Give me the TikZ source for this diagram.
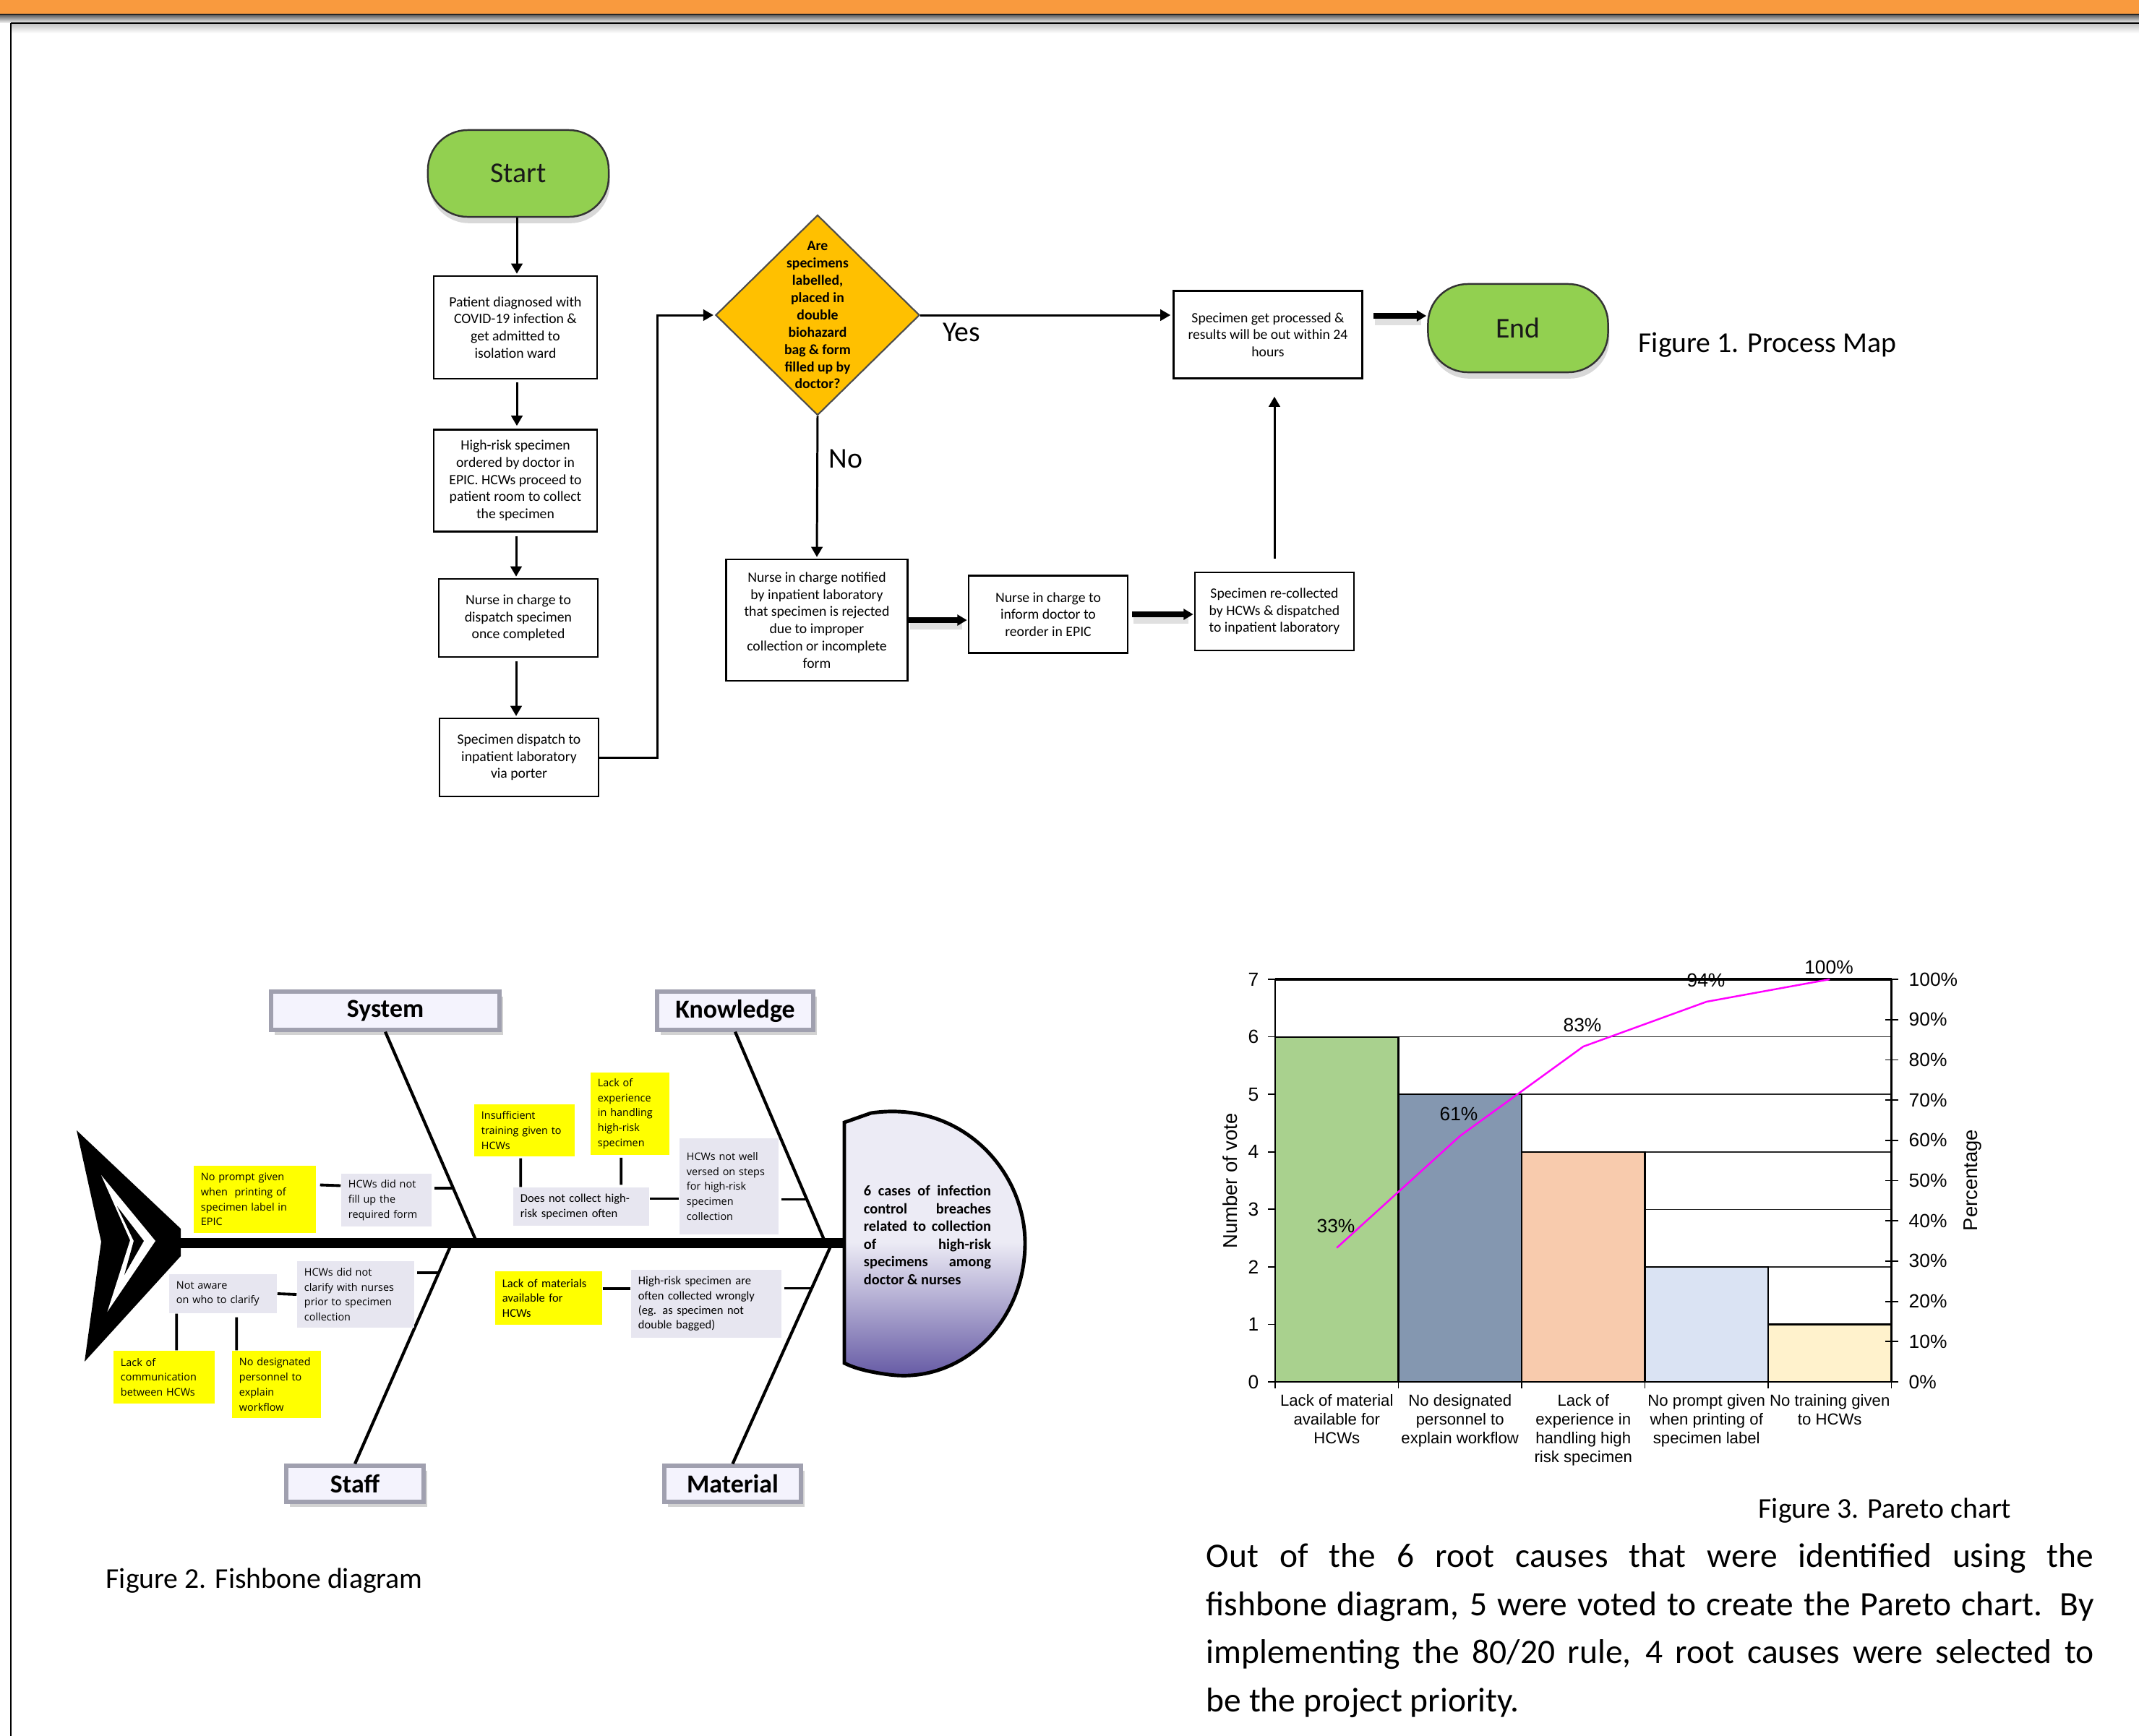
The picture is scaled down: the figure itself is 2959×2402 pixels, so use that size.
\documentclass[tikz,border=0pt]{standalone}
\usepackage{fontspec}
\setmainfont{Carlito}
\newfontfamily\osans{Open Sans}
\newfontfamily\arialf{Liberation Sans}
\usetikzlibrary{shapes.geometric,arrows.meta,calc,shadows}
\newcommand\fsz[2]{\fontsize{#1}{#2}\selectfont}
\definecolor{orangeband}{RGB}{249,154,62}
\definecolor{termgreen}{RGB}{146,208,80}
\definecolor{diamondfill}{RGB}{255,192,0}
\definecolor{causegray}{RGB}{231,230,240}
\definecolor{causeyellow}{RGB}{255,255,0}
\definecolor{catfill}{RGB}{244,243,253}
\definecolor{catedge}{RGB}{160,160,175}
\definecolor{barA}{RGB}{169,209,142}
\definecolor{barB}{RGB}{132,151,176}
\definecolor{barC}{RGB}{248,203,173}
\definecolor{barD}{RGB}{218,227,243}
\definecolor{barE}{RGB}{255,242,204}
\definecolor{headlight}{RGB}{236,235,245}
\definecolor{headdark}{RGB}{94,82,160}
\definecolor{paretoline}{RGB}{255,0,255}
\begin{document}
\begin{tikzpicture}[x=0.01cm,y=-0.01cm,
  flowbox/.style={draw=black, line width=0.7pt, fill=white, align=center, inner sep=0pt, font=\fsz{5.6pt}{6.74pt}},
  term/.style={draw=black!80, line width=0.7pt, fill=termgreen, rounded corners=0.55cm, font=\fsz{11.3pt}{13pt}, text=black!90,
     drop shadow={shadow xshift=0.5pt, shadow yshift=-2.5pt, opacity=0.3}},
  flowarr/.style={line width=0.85pt, -{Triangle[length=4pt,width=4.4pt]}},
  thickarr/.style={line width=2pt, -{Triangle[length=3.8pt,width=4.2pt]}},
  arrshadow/.style={line width=3.5pt, black, opacity=0.12},
  cause/.style={fill=causegray, align=left, inner xsep=0.1cm, inner ysep=0pt, font=\osans\fsz{4.1pt}{5.9pt}},
  causey/.style={cause, fill=causeyellow},
  causec/.style={cause, font=\fsz{4.7pt}{5.8pt}},
  causecy/.style={causec, fill=causeyellow},
  catbox/.style={fill=catfill, draw=catedge, line width=1.5pt, inner sep=0pt, font=\bfseries\fsz{10.2pt}{12pt},
     drop shadow={shadow xshift=1.5pt, shadow yshift=-2pt, opacity=0.35}},
  bone/.style={line width=1.2pt},
  link/.style={line width=1.1pt},
  chartlbl/.style={font=\arialf\fsz{7.5pt}{9pt}, inner sep=0pt},
  catlbl/.style={font=\arialf\fsz{6.3pt}{7.35pt}, align=center, inner sep=0pt, anchor=north},
  caption/.style={font=\fsz{11.3pt}{13pt}, inner sep=0pt, anchor=west}
]
\useasboundingbox (0,0) rectangle (2959,2402);
\fill[white] (0,0) rectangle (2959,2402);
% ---------- header ----------
\fill[orangeband] (0,0) rectangle (2959,19);
\fill[black!85] (0,19) rectangle (2959,21);
\shade[top color=black!60, bottom color=black!8] (0,21) rectangle (2959,31);
\fill[black] (15,31) rectangle (2959,33.5);
\shade[top color=black!22, bottom color=white] (15,33.5) rectangle (2959,46);
\draw[line width=0.6pt] (15,32) -- (15,2402);

% ---------- Figure 1: process map ----------
\node[term, minimum width=2.5cm, minimum height=1.2cm] (start) at (717,240) {Start};
\node[flowbox, minimum width=2.26cm, minimum height=1.42cm] (b1) at (713,453)
  {Patient diagnosed with\\COVID-19 infection \&\\get admitted to\\isolation ward};
\node[flowbox, minimum width=2.26cm, minimum height=1.41cm] (b2) at (713,665)
  {High-risk specimen\\ordered by doctor in\\EPIC. HCWs proceed to\\patient room to collect\\the specimen};
\node[flowbox, minimum width=2.2cm, minimum height=1.08cm] (b3) at (717,855)
  {Nurse in charge to\\dispatch specimen\\once completed};
\node[flowbox, minimum width=2.2cm, minimum height=1.08cm] (b4) at (718,1048)
  {Specimen dispatch to\\inpatient laboratory\\via porter};
\node[diamond, draw=black!70, line width=0.6pt, fill=diamondfill, minimum width=2.82cm, minimum height=2.77cm, inner sep=0pt] (dia) at (1131,436) {};
\node[font=\bfseries\fsz{5.6pt}{6.8pt}, align=center, inner sep=0pt] (diatext) at (dia.center)
  {Are\\specimens\\labelled,\\placed in\\double\\biohazard\\bag \& form\\filled up by\\doctor?};
\node[flowbox, minimum width=2.51cm, minimum height=1.68cm] (b5) at (1130,858)
  {Nurse in charge notified\\by inpatient laboratory\\that specimen is rejected\\due to improper\\collection or incomplete\\form};
\node[flowbox, minimum width=2.2cm, minimum height=1.07cm] (b6) at (1450,850)
  {Nurse in charge to\\inform doctor to\\reorder in EPIC};
\node[flowbox, minimum width=2.2cm, minimum height=1.08cm] (b7) at (1763,846)
  {Specimen re-collected\\by HCWs \& dispatched\\to inpatient laboratory};
\node[flowbox, minimum width=2.61cm, minimum height=1.21cm] (b8) at (1754,463)
  {Specimen get processed \&\\results will be out within 24\\hours};
\node[term, minimum width=2.49cm, minimum height=1.22cm] (end) at (2100,454) {End};
\node[font=\fsz{11.3pt}{13pt}, inner sep=0pt] (yes) at (1330,460) {Yes};
\node[font=\fsz{11.3pt}{13pt}, inner sep=0pt] (no) at (1170,635) {No};
\node[caption] (cap1) at (2266,477) {Figure 1. Process Map};

\draw[flowarr] ($(start.south)+(-2,0)$) -- ($(start.south |- b1.north)+(-2,-2)$);
\draw[flowarr] ($(b1.south)+(2,4)$) -- ($(b1.south |- b2.north)+(2,-4)$);
\draw[flowarr] ($(b2.south)+(1,5)$) -- ($(b2.south |- b3.north)+(1,-2)$);
\draw[flowarr] ($(b3.south)+(-3,5)$) -- ($(b3.south |- b4.north)+(-3,-2)$);
\draw[flowarr] (b4.east) -- ++(80,0) |- ($(dia.west)+(-2,0)$);
\draw[flowarr] (dia.east) -- ($(dia.east -| b8.west)+(-3,0)$);
\draw[flowarr] (dia.south) -- ($(b5.north)+(0,-2)$);
\draw[arrshadow] ($(b5.east)+(2,7)$) -- ($(b5.east -| b6.west)+(-8,7)$);
\draw[thickarr] (b5.east) -- ($(b5.east -| b6.west)+(-1,0)$);
\draw[arrshadow] ($(b6.east)+(7,7)$) -- ($(b6.east -| b7.west)+(-8,7)$);
\draw[thickarr] ($(b6.east)+(5,0)$) -- ($(b6.east -| b7.west)+(-1,0)$);
\draw[flowarr] ($(b7.north)+(0,-18)$) -- ($(b7.north |- b8.south)+(0,24)$);
\draw[arrshadow] ($(b8.east)+(16,-19)$) -- ($(end.west)+(-8,-10)$);
\draw[thickarr] ($(b8.east)+(14,-26)$) -- ($(end.west)+(-1,-17)$);

% ---------- Figure 2: fishbone ----------
\fill[black] (106,1564) -- (250,1700) -- (250,1738) -- (117,1884) -- (140,1718) -- cycle;
\fill[white] (140,1626) -- (215,1717) -- (148.5,1815) -- (180,1716) -- cycle;
\fill[black] (162,1669) -- (199,1717) -- (172,1764) -- (185,1717) -- cycle;
\draw[line width=4pt] (246,1720) -- (1172,1720);

\path[draw=black, line width=1.4pt, top color=headlight, bottom color=headdark, middle color=headlight]
  (1168,1553) -- (1205,1540) .. controls (1330,1522) and (1418,1620) .. (1418,1720)
  .. controls (1418,1830) and (1330,1915) .. (1230,1902)
  .. controls (1200,1898) and (1182,1893) .. (1168,1886) -- cycle;
\node[font=\bfseries\fsz{5.8pt}{6.97pt}, align=left, inner sep=0pt] (headtxt) at (1283,1709)
  {\makebox[1.76cm][s]{6 cases of infection}\\
   \makebox[1.76cm][s]{control breaches}\\
   \makebox[1.76cm][s]{related to collection}\\
   \makebox[1.76cm][s]{of high-risk}\\
   \makebox[1.76cm][s]{specimens among}\\
   doctor \& nurses};

\node[catbox, minimum width=3.16cm, minimum height=0.53cm] (sys) at (533,1398.5) {System};
\node[catbox, minimum width=2.16cm, minimum height=0.53cm] (know) at (1017,1398.5) {Knowledge};
\node[catbox, minimum width=1.9cm, minimum height=0.5cm] (staff) at (491,2053) {Staff};
\node[catbox, minimum width=1.89cm, minimum height=0.5cm] (mat) at (1013.5,2053) {Material};
\coordinate (sysS) at (660,1720);
\coordinate (knowS) at (1142,1720);
\coordinate (staffS) at (625,1720);
\coordinate (matS) at (1151,1720);
\draw[bone] (sys.south) -- (sysS);
\draw[bone] (know.south) -- (knowS);
\draw[bone] (staffS) -- (staff.north);
\draw[bone] (matS) -- (mat.north);

\node[causey, text width=1.49cm, minimum height=0.93cm] (Y1) at (352.5,1659.5)
  {No prompt given\\when\ \ printing of\\specimen label in\\EPIC};
\node[cause, text width=1.05cm, minimum height=0.73cm] (G1) at (534.5,1660.5)
  {HCWs did not\\fill up the\\required form};
\node[cause, text width=1.29cm, minimum height=0.54cm] (G2) at (308.5,1790)
  {Not aware\\on who to clarify};
\node[cause, text width=1.42cm, minimum height=0.92cm] (G3) at (492,1791)
  {HCWs did not\\clarify with nurses\\prior to specimen\\collection};
\node[causey, text width=1.2cm, minimum height=0.73cm] (Y2) at (227,1905.5)
  {Lack of\\communication\\between HCWs};
\node[causey, text width=1.03cm, minimum height=0.93cm] (Y3) at (382.5,1915.5)
  {\mbox{No designated}\\personnel to\\explain\\workflow};
\node[causey, text width=1.19cm, minimum height=0.72cm] (Y4) at (725.5,1564)
  {Insufficient\\\mbox{training given to}\\HCWs};
\node[causey, text width=0.89cm, minimum height=1.14cm] (Y5) at (871.5,1541)
  {Lack of\\experience\\in handling\\high-risk\\specimen};
\node[causec, text width=1.68cm, minimum height=0.53cm] (G4) at (804,1669.5)
  {Does not collect high-\\risk specimen often};
\node[cause, text width=1.17cm, minimum height=1.33cm] (G5) at (1008.5,1641.5)
  {HCWs not well\\versed on steps\\for high-risk\\specimen\\collection\\[5pt]};
\node[causecy, text width=1.28cm, minimum height=0.74cm] (Y6) at (759,1796)
  {Lack of materials\\available for\\HCWs};
\node[causec, text width=1.88cm, minimum height=0.94cm] (G6) at (977,1804)
  {High-risk specimen are\\often collected wrongly\\(eg. as specimen not\\double bagged)};

\draw[link] ($(Y1.east)+(5,-20)$) -- ($(G1.west)+(0,-20)$);
\coordinate (p1) at ($(sys.south)!0.739!(sysS)$);
\draw[link] (p1) -- ($(p1 -| G1.east)+(3,0)$);
\draw[link] (G2.east) -- (G3.west);
\coordinate (p2) at ($(staffS)!0.133!(staff.north)$);
\draw[link] (p2) -- ($(p2 -| G3.east)+(3,0)$);
\draw[link] ($(G2.south west)+(11,0)$) -- ($(Y2.north west)+(88,0)$);
\draw[link] ($(G2.south west)+(94,5)$) -- ($(Y3.north west)+(7,0)$);
\draw[link] ($(Y4.south west)+(65,2)$) -- ($(G4.north west)+(11,0)$);
\draw[link] ($(Y5.south west)+(43,3)$) -- ($(G4.north west)+(150,-3)$);
\draw[link] ($(G4.east)+(0,-11)$) -- ($(G5.west)+(0,17)$);
\coordinate (p3) at ($(know.south)!0.793!(knowS)$);
\draw[link] (p3) -- ($(p3 -| G5.east)+(3,0)$);
\draw[link] ($(Y6.east)+(0,-13)$) -- ($(G6.west)+(0,-21)$);
\coordinate (p4) at ($(matS)!0.2045!(mat.north)$);
\draw[link] (p4) -- ($(p4 -| G6.east)+(3,0)$);

\node[caption] (cap2) at (146,2187) {Figure 2. Fishbone diagram};

% ---------- Figure 3: Pareto chart ----------
\foreach \k in {1,...,6}
  \draw[line width=0.45pt, black!85] (1764,{1912-79.57*\k}) -- (2616.5,{1912-79.57*\k});
\foreach \i/\v/\c in {0/6/barA,1/5/barB,2/4/barC,3/2/barD,4/1/barE}
  \filldraw[fill=\c, draw=black, line width=0.6pt] ({1764+170.5*\i},1912) rectangle ({1764+170.5*(\i+1)},{1912-79.57*\v});
\draw[line width=1pt] (1764,1355) -- (2616.5,1355);
\draw[line width=0.6pt] (1764,1355) -- (1764,1912) -- (2616.5,1912) -- (2616.5,1355);
\foreach \k in {0,...,7} {
  \draw[line width=0.5pt] (1754,{1912-79.57*\k}) -- (1764,{1912-79.57*\k});
  \node[chartlbl, anchor=east] at (1742,{1912-79.57*\k}) {\k};
}
\foreach \k in {0,...,10} {
  \pgfmathtruncatemacro{\pp}{10*\k}
  \draw[line width=0.5pt] (2608,{1912-55.7*\k}) -- (2626,{1912-55.7*\k});
  \node[chartlbl, anchor=west] at (2640,{1912-55.7*\k}) {\pp\%};
}
\foreach \i in {0,...,5}
  \draw[line width=0.5pt] ({1764+170.5*\i},1912) -- ({1764+170.5*\i},1921);
\draw[paretoline, line width=0.7pt] (1849.25,1726.5) -- (2019.75,1571.7) -- (2190.25,1448) -- (2360.75,1386) -- (2531.25,1355);
\node[chartlbl] (l33) at (1848,1696) {33\%};
\node[chartlbl] (l61) at (2018,1541) {61\%};
\node[chartlbl] (l83) at (2189,1418) {83\%};
\node[chartlbl] (l94) at (2360,1356) {94\%};
\node[chartlbl] (l100) at (2530,1338) {100\%};
\node[font=\arialf\fsz{7.8pt}{9pt}, rotate=90, inner sep=0pt] (ytitle) at (1702,1634) {Number of vote};
\node[font=\arialf\fsz{7.8pt}{9pt}, rotate=90, inner sep=0pt] (y2title) at (2729,1633) {Percentage};
\node[catlbl] (c1) at (1849.25,1929) {Lack of material\\available for\\HCWs};
\node[catlbl] (c2) at (2019.75,1929) {No designated\\personnel to\\explain workflow};
\node[catlbl] (c3) at (2190.25,1929) {Lack of\\experience in\\handling high\\risk specimen};
\node[catlbl] (c4) at (2360.75,1929) {No prompt given\\when printing of\\specimen label};
\node[catlbl] (c5) at (2531.25,1929) {No training given\\to HCWs};
\node[caption] (cap3) at (2432,2090) {Figure 3. Pareto chart};

\node[font=\fsz{13.5pt}{18.9pt}, text width=12.27cm, align=justify, inner sep=0pt, anchor=north west] (body) at (1668,2135)
  {Out of the 6 root causes that were identified using the\linebreak
   fishbone diagram, 5 were voted to create the Pareto chart. By\linebreak
   implementing the 80/20 rule, 4 root causes were selected to\linebreak
   be the project priority.};
\end{tikzpicture}
\end{document}
